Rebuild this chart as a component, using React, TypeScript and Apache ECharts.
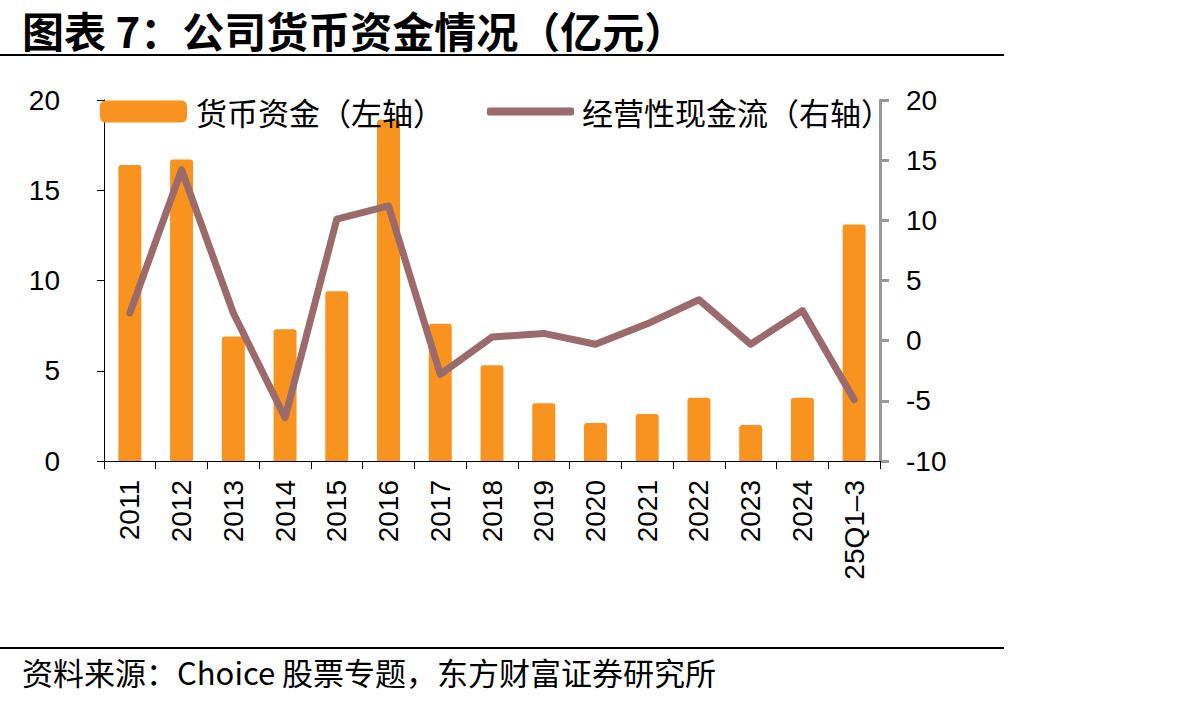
import React, { useEffect, useRef } from "react";
import * as echarts from "echarts";

const categories = ["2011", "2012", "2013", "2014", "2015", "2016", "2017", "2018", "2019", "2020", "2021", "2022", "2023", "2024", "25Q1–3"];
const cashFunds = [16.4, 16.7, 6.9, 7.3, 9.4, 18.9, 7.6, 5.3, 3.2, 2.1, 2.6, 3.5, 2.0, 3.5, 13.1];
const operatingCashFlow = [2.3, 14.2, 2.3, -6.4, 10.1, 11.2, -2.8, 0.3, 0.6, -0.3, 1.4, 3.4, -0.3, 2.5, -4.9];
const leftTicks = { min: 0, max: 20, interval: 5 };
const rightTicks = { min: -10, max: 20, interval: 5 };

const titleText = "图表 7：公司货币资金情况（亿元）";
const sourceText = "资料来源：Choice 股票专题，东方财富证券研究所";
const barName = "货币资金（左轴）";
const lineName = "经营性现金流（右轴）";

const CJK = '"Noto Sans CJK SC", sans-serif';
const LATIN = '"Liberation Sans", Arial, sans-serif';

export default function App() {
  const ref = useRef<HTMLDivElement>(null);
  useEffect(() => {
    document.body.style.margin = "0";
    const chart = echarts.init(ref.current!, null, { renderer: "svg" });
    chart.setOption({
      animation: false,
      backgroundColor: "#ffffff",
      grid: { left: 104, right: 312, top: 100, bottom: 240 },
      legend: [
        {
          data: [{ name: barName, icon: "roundRect" }],
          left: 100,
          top: 96,
          padding: 0,
          itemWidth: 87,
          itemHeight: 22,
          textStyle: { fontFamily: CJK, fontSize: 31, color: "#000", padding: [0, 0, 0, 4] },
        },
        {
          data: [{ name: lineName, icon: "roundRect" }],
          left: 487,
          top: 96,
          padding: 0,
          itemWidth: 87,
          itemHeight: 8,
          textStyle: { fontFamily: CJK, fontSize: 31, color: "#000", padding: [0, 0, 0, 3] },
        },
      ],
      xAxis: {
        type: "category",
        data: categories,
        boundaryGap: true,
        axisLine: { lineStyle: { color: "#000", width: 1 } },
        axisTick: { show: true, length: 8, lineStyle: { color: "#000" } },
        axisLabel: {
          rotate: 90,
          interval: 0,
          margin: 19,
          color: "#000",
          fontSize: 28,
          fontFamily: LATIN,
        },
      },
      yAxis: [
        {
          type: "value",
          min: leftTicks.min,
          max: leftTicks.max,
          interval: leftTicks.interval,
          splitLine: { show: false },
          axisLine: { show: true, lineStyle: { color: "#000", width: 1 } },
          axisTick: { show: true, length: 7, lineStyle: { color: "#000" } },
          axisLabel: { margin: 44, color: "#000", fontSize: 28, fontFamily: LATIN },
        },
        {
          type: "value",
          position: "right",
          min: rightTicks.min,
          max: rightTicks.max,
          interval: rightTicks.interval,
          splitLine: { show: false },
          axisLine: { show: true, lineStyle: { color: "#999999", width: 3 } },
          axisTick: { show: true, length: 9, lineStyle: { color: "#999999", width: 3 } },
          axisLabel: { margin: 26, color: "#000", fontSize: 28, fontFamily: LATIN },
        },
      ],
      series: [
        {
          name: barName,
          type: "bar",
          data: cashFunds,
          barWidth: 23,
          itemStyle: { color: "#F7931E", borderRadius: [3, 3, 0, 0] },
          yAxisIndex: 0,
          z: 2,
        },
        {
          name: lineName,
          type: "line",
          data: operatingCashFlow,
          yAxisIndex: 1,
          showSymbol: false,
          symbol: "none",
          lineStyle: { color: "#9B6A6A", width: 7, cap: "round", join: "round" },
          itemStyle: { color: "#9B6A6A" },
          z: 3,
        },
      ],
      graphic: [
        {
          type: "text",
          x: 22,
          y: 29,
          style: {
            text: titleText,
            font: `bold 42px ${CJK}`,
            fill: "#000",
            verticalAlign: "middle",
          },
        },
        {
          type: "line",
          shape: { x1: 0, y1: 55, x2: 1004, y2: 55 },
          style: { stroke: "#000", lineWidth: 2 },
        },
        {
          type: "line",
          shape: { x1: 0, y1: 648, x2: 1004, y2: 648 },
          style: { stroke: "#000", lineWidth: 2 },
        },
        {
          type: "text",
          x: 22,
          y: 671,
          style: {
            text: sourceText,
            font: `31px ${CJK}`,
            fill: "#000",
            verticalAlign: "middle",
          },
        },
      ],
    });
    return () => chart.dispose();
  }, []);
  return <div ref={ref} style={{ width: 1192, height: 701, position: "absolute", left: 0, top: 0 }} />;
}
